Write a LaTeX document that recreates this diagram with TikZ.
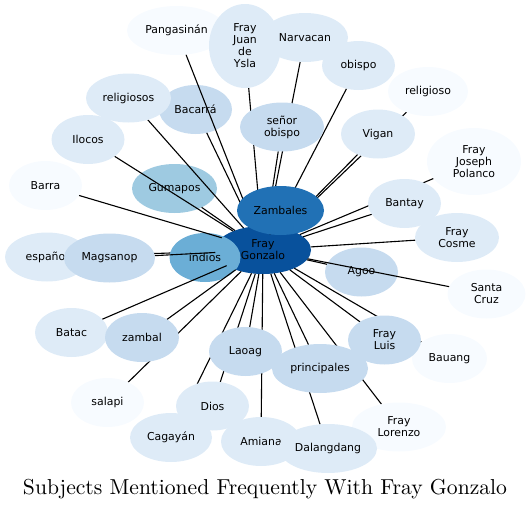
\documentclass[tikz,border=0pt]{standalone}
\usepackage{fontspec}
\usetikzlibrary{shapes.geometric}
\newfontfamily\nodefont{DejaVu Sans}
\definecolor{bA}{HTML}{F7FBFF}
\definecolor{bB}{HTML}{DEEBF7}
\definecolor{bC}{HTML}{C6DBEF}
\definecolor{bD}{HTML}{9ECAE1}
\definecolor{bE}{HTML}{6BAED6}
\definecolor{bG}{HTML}{2171B5}
\definecolor{bH}{HTML}{08519C}
\pgfdeclarelayer{bottom}
\pgfdeclarelayer{edgelow}
\pgfdeclarelayer{mid}
\pgfdeclarelayer{edgetop}
\pgfsetlayers{bottom,edgelow,mid,edgetop,main}
\tikzset{
  nd/.style={ellipse, inner sep=0pt, outer sep=0pt, align=center, text=black,
    font=\nodefont\fontsize{10.9}{12}\selectfont, minimum height=49pt},
  wd/.style={minimum width=#1},
  conn/.style={draw=black, line width=1.1pt},
}
\begin{document}
\begin{tikzpicture}[x=1pt,y=-1pt]
\useasboundingbox (0,0) rectangle (531,509);
% nodes under the connectors
\begin{pgfonlayer}{bottom}
\node[nd, fill=bH, wd=96pt, minimum height=48pt] (FG) at (263,250) {Fray\\Gonzalo};
\node[nd, fill=bB, wd=84pt] (espanol) at (47,257) {español};
\node[nd, fill=bC, wd=73pt] (Bacarra) at (195.5,109.5) {Bacarrá};
\node[nd, fill=bD, wd=85pt] (Gumapos) at (174.5,188.5) {Gumapos};
\node[nd, fill=bC, wd=73pt] (Agoo) at (361.5,272) {Agoo};
\end{pgfonlayer}
\begin{pgfonlayer}{mid}
\node[nd, fill=bE, wd=71pt] (indios) at (205,257.5) {indios};
\node[nd, fill=bC, wd=91pt] (Magsanop) at (109.5,258) {Magsanop};
\end{pgfonlayer}
% nodes above the connectors
\node[nd, fill=bA, wd=99pt] (Pang) at (176.5,30.5) {Pangasinán};
\node[nd, fill=bB, wd=72pt, minimum height=84pt] (FJdY) at (245,46) {Fray\\Juan\\de\\Ysla};
\node[nd, fill=bB, wd=86pt] (Narv) at (305,37.5) {Narvacan};
\node[nd, fill=bB, wd=73pt] (obispo) at (358.5,65.5) {obispo};
\node[nd, fill=bA, wd=80pt] (religioso) at (428,91.5) {religioso};
\node[nd, fill=bB, wd=85pt] (religiosos) at (128.5,98) {religiosos};
\node[nd, fill=bC, wd=84pt] (senor) at (282,127) {señor\\obispo};
\node[nd, fill=bB, wd=74pt] (Vigan) at (378,134) {Vigan};
\node[nd, fill=bA, wd=94pt, minimum height=67pt] (FJP) at (474,161.5) {Fray\\Joseph\\Polanco};
\node[nd, fill=bB, wd=73pt] (Ilocos) at (88,139.5) {Ilocos};
\node[nd, fill=bA, wd=73pt] (Barra) at (45.5,185.5) {Barra};
\node[nd, fill=bG, wd=87pt] (Zamb) at (280.5,210.5) {Zambales};
\node[nd, fill=bB, wd=73pt] (Bantay) at (404.5,203.5) {Bantay};
\node[nd, fill=bB, wd=84pt] (Cosme) at (457,237.5) {Fray\\Cosme};
\node[nd, fill=bA, wd=78pt] (SCruz) at (486.5,294) {Santa\\Cruz};
\node[nd, fill=bB, wd=73pt] (Batac) at (71.5,332.5) {Batac};
\node[nd, fill=bC, wd=74pt] (zambal) at (142,337.5) {zambal};
\node[nd, fill=bC, wd=73pt] (Laoag) at (245.5,351.5) {Laoag};
\node[nd, fill=bC, wd=96pt] (princ) at (320,368.5) {principales};
\node[nd, fill=bA, wd=75pt] (Bauang) at (449.5,358.5) {Bauang};
\node[nd, fill=bC, wd=73pt] (Luis) at (384.5,340) {Fray\\Luis};
\node[nd, fill=bA, wd=73pt] (salapi) at (107.5,402.5) {salapi};
\node[nd, fill=bB, wd=73pt] (Dios) at (212.5,406) {Dios};
\node[nd, fill=bA, wd=94pt] (Lorenzo) at (399,427) {Fray\\Lorenzo};
\node[nd, fill=bB, wd=82pt] (Cagayan) at (171,437.5) {Cagayán};
\node[nd, fill=bB, wd=80pt] (Amiana) at (261,441.5) {Amiana};
\node[nd, fill=bB, wd=98pt] (Dalang) at (328,448.5) {Dalangdang};
% connectors
\begin{pgfonlayer}{edgelow}
\draw[conn] (FG) -- (espanol);
\draw[conn] (FG) -- (indios);
\end{pgfonlayer}
\begin{pgfonlayer}{edgetop}
\foreach \t in {Pang,FJdY,Narv,obispo,religioso,religiosos,Bacarra,senor,Vigan,FJP,
  Ilocos,Barra,Gumapos,Zamb,Bantay,Cosme,Magsanop,Agoo,SCruz,Batac,zambal,Laoag,
  princ,Bauang,Luis,salapi,Dios,Lorenzo,Cagayan,Amiana,Dalang}
  {\draw[conn] (FG) -- (\t);}
\end{pgfonlayer}
% title
\node[anchor=base, inner sep=0pt] (title) at (265,494)
  {\resizebox{484pt}{!}{Subjects Mentioned Frequently With Fray Gonzalo}};
\end{tikzpicture}
\end{document}
